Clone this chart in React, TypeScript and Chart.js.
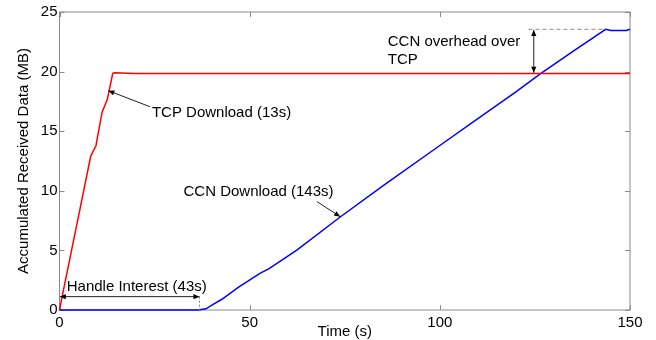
import React, { useEffect, useRef } from "react";
import { Chart, registerables } from "chart.js";

Chart.register(...registerables);

const tcpTime = [0, 1, 4, 8.2, 9.6, 11.2, 12.6, 14.0, 14.5, 20, 150];
const tcpData = [0, 1.6, 6.3, 12.9, 13.8, 16.6, 17.7, 19.85, 19.9, 19.85, 19.85];

const ccnTime = [0, 36.5, 38.5, 40.5, 42.7, 47, 52.8, 55, 62.4, 73.8, 85.2, 100, 110, 120, 126.4, 135, 143.6, 145, 149, 150];
const ccnData = [0, 0, 0.1, 0.5, 0.9, 1.9, 3.1, 3.45, 5.03, 7.8, 10.45, 13.8, 16.05, 18.3, 19.8, 21.7, 23.55, 23.45, 23.45, 23.55];

const xTicks = [0, 50, 100, 150];
const yTicks = [0, 5, 10, 15, 20, 25];

const FONT = "'Liberation Sans', Arial, Helvetica, sans-serif";

function arrowHead(ctx: CanvasRenderingContext2D, x1: number, y1: number, x2: number, y2: number) {
  const ang = Math.atan2(y2 - y1, x2 - x1);
  const len = 6;
  const w = 2.6;
  ctx.beginPath();
  ctx.moveTo(x2, y2);
  ctx.lineTo(x2 - len * Math.cos(ang) + w * Math.sin(ang), y2 - len * Math.sin(ang) - w * Math.cos(ang));
  ctx.lineTo(x2 - len * Math.cos(ang) - w * Math.sin(ang), y2 - len * Math.sin(ang) + w * Math.cos(ang));
  ctx.closePath();
  ctx.fill();
}

function arrow(ctx: CanvasRenderingContext2D, x1: number, y1: number, x2: number, y2: number, both = false) {
  ctx.beginPath();
  ctx.moveTo(x1, y1);
  ctx.lineTo(x2, y2);
  ctx.stroke();
  arrowHead(ctx, x1, y1, x2, y2);
  if (both) arrowHead(ctx, x2, y2, x1, y1);
}

const framePlugin = {
  id: "frame",
  beforeDatasetsDraw(chart: any) {
    const { ctx, chartArea } = chart;
    const xs = chart.scales.x;
    const ys = chart.scales.y;
    const X = (v: number) => xs.getPixelForValue(v);
    const Y = (v: number) => ys.getPixelForValue(v);
    const { left, right, top, bottom } = chartArea;
    ctx.save();
    ctx.strokeStyle = "#8a8a8a";
    ctx.lineWidth = 1;
    ctx.strokeRect(left, top, right - left, bottom - top);
    ctx.beginPath();
    xTicks.forEach((t) => {
      const px = Math.round(X(t)) + 0.5;
      ctx.moveTo(px, bottom);
      ctx.lineTo(px, bottom - 5);
      ctx.moveTo(px, top);
      ctx.lineTo(px, top + 5);
    });
    yTicks.forEach((t) => {
      const py = Math.round(Y(t)) + 0.5;
      ctx.moveTo(left, py);
      ctx.lineTo(left + 5, py);
      ctx.moveTo(right, py);
      ctx.lineTo(right - 5, py);
    });
    ctx.stroke();
    ctx.restore();
  },
};

const decorPlugin = {
  id: "decor",
  afterDraw(chart: any) {
    const { ctx } = chart;
    const xs = chart.scales.x;
    const ys = chart.scales.y;
    const X = (v: number) => xs.getPixelForValue(v);
    const Y = (v: number) => ys.getPixelForValue(v);
    ctx.save();
    ctx.fillStyle = "#000";
    ctx.font = "15px " + FONT;
    ctx.textBaseline = "middle";
    ctx.textAlign = "left";
    ctx.strokeStyle = "#222";
    ctx.lineWidth = 1;

    // TCP Download
    ctx.fillText("TCP Download (13s)", X(24.3), Y(16.5));
    arrow(ctx, X(23.8), Y(17.05), X(12.85), Y(18.4));

    // CCN Download
    ctx.fillText("CCN Download (143s)", X(32.6), Y(9.95));
    arrow(ctx, X(67.7), Y(9.09), X(73.8), Y(7.83));

    // Handle Interest
    ctx.fillText("Handle Interest (43s)", X(1.9), Y(1.95));
    arrow(ctx, X(0.1), Y(1.12), X(36.8), Y(1.12), true);
    ctx.save();
    ctx.strokeStyle = "#777";
    ctx.setLineDash([2, 2]);
    ctx.beginPath();
    ctx.moveTo(X(36.8), Y(1.12));
    ctx.lineTo(X(36.8), Y(0));
    ctx.stroke();
    ctx.restore();

    // CCN overhead
    ctx.fillText("CCN overhead over", X(86.3), Y(22.5));
    ctx.fillText("TCP", X(86.3), Y(20.97));
    ctx.save();
    ctx.strokeStyle = "#8a8a8a";
    ctx.setLineDash([4, 3]);
    ctx.beginPath();
    ctx.moveTo(X(123.3), Y(23.55));
    ctx.lineTo(X(143.6), Y(23.55));
    ctx.stroke();
    ctx.restore();
    arrow(ctx, X(124.7), Y(23.5), X(124.7), Y(19.9), true);

    ctx.restore();
  },
};

export default function App() {
  const ref = useRef<HTMLCanvasElement | null>(null);
  useEffect(() => {
    document.body.style.margin = "0";
    const canvas = ref.current!;
    const chart = new Chart(canvas, {
      type: "line",
      data: {
        datasets: [
          {
            label: "TCP",
            data: tcpTime.map((t, i) => ({ x: t, y: tcpData[i] })),
            borderColor: "#ff0000",
            borderWidth: 1.5,
            pointRadius: 0,
            tension: 0,
            clip: 3,
          },
          {
            label: "CCN",
            data: ccnTime.map((t, i) => ({ x: t, y: ccnData[i] })),
            borderColor: "#0000ff",
            borderWidth: 1.5,
            pointRadius: 0,
            tension: 0,
            clip: 3,
          },
        ],
      },
      options: {
        animation: false,
        responsive: false,
        devicePixelRatio: 1,
        layout: { padding: { left: 0, right: 26, top: 12, bottom: 0 } },
        plugins: { legend: { display: false }, tooltip: { enabled: false } },
        scales: {
          x: {
            type: "linear",
            min: 0,
            max: 150,
            afterBuildTicks: (s: any) => {
              s.ticks = xTicks.map((v) => ({ value: v }));
            },
            afterFit: (s: any) => {
              s.height = 30;
            },
            grid: { display: false, drawTicks: false },
            border: { display: false },
            ticks: { color: "#000", font: { size: 15, family: FONT }, padding: 4, maxRotation: 0, autoSkip: false },
            title: { display: true, text: "Time (s)", color: "#000", font: { size: 15, family: FONT }, padding: { top: 0, bottom: -1 } },
          },
          y: {
            type: "linear",
            min: 0,
            max: 25,
            afterBuildTicks: (s: any) => {
              s.ticks = yTicks.map((v) => ({ value: v }));
            },
            afterFit: (s: any) => {
              s.width = 59.5;
            },
            grid: { display: false, drawTicks: false },
            border: { display: false },
            ticks: { color: "#000", font: { size: 15, family: FONT }, padding: 2 },
            title: {
              display: true,
              text: "Accumulated Received Data (MB)",
              color: "#000",
              font: { size: 15, family: FONT },
              padding: { top: 15, bottom: 0 },
            },
          },
        },
      },
      plugins: [framePlugin, decorPlugin],
    } as any);
    return () => chart.destroy();
  }, []);
  return (
    <div style={{ position: "absolute", left: 0, top: 0, width: 656, height: 340, background: "#fff" }}>
      <canvas ref={ref} width={656} height={340} />
    </div>
  );
}
